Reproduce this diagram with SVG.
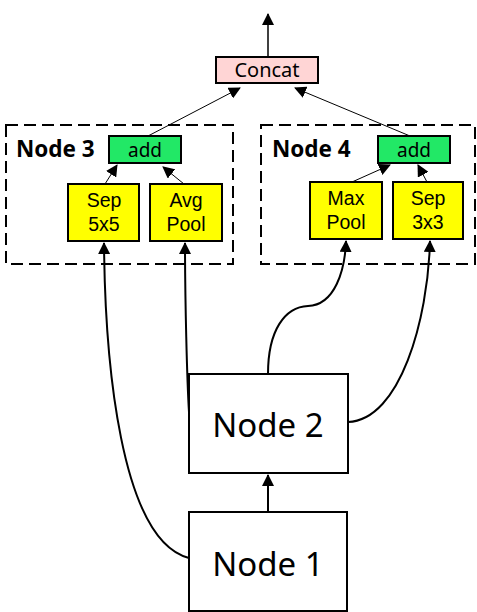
<svg xmlns="http://www.w3.org/2000/svg" width="477" height="612" viewBox="0 0 477 612">
<style>
.box{stroke:#000;stroke-width:2}
.dash{fill:none;stroke:#000;stroke-width:2;stroke-dasharray:12,6}
.op{fill:#ffff00}
.add{fill:#22e866}
.lbl{font-family:"Liberation Sans",Arial,sans-serif;font-size:19.5px;text-anchor:middle}
.k{font-family:"Noto Sans","Noto Sans CJK KR",sans-serif;text-anchor:middle}
.thin{fill:none;stroke:#000;stroke-width:1}
.thick{fill:none;stroke:#000;stroke-width:2}
</style>
<defs>
<marker id="ah" markerUnits="userSpaceOnUse" markerWidth="12" markerHeight="12" viewBox="0 0 12 12" refX="11" refY="6" orient="auto">
<path d="M0,0 L12,6 L0,12 Z" fill="#000"/>
</marker>
</defs>
<rect width="477" height="612" fill="#fff"/>
<g id="node3-group">
<rect class="dash" x="6" y="125" width="227" height="139"/>
<text x="16" y="157" font-family="Noto Sans,sans-serif" font-weight="bold" font-size="22.5">Node 3</text>
</g>
<g id="node4-group">
<rect class="dash" x="261" y="125" width="214" height="139"/>
<text x="272" y="157" font-family="Noto Sans,sans-serif" font-weight="bold" font-size="22.5">Node 4</text>
</g>
<g id="concat"><rect class="box" x="216" y="57" width="102" height="26" fill="#ffd5d5"/><text class="k" x="267" y="77" font-size="20">Concat</text></g>
<g id="add3"><rect class="box add" x="109" y="136" width="72" height="27"/><text class="k" x="145" y="157" font-size="19">add</text></g>
<g id="add4"><rect class="box add" x="378" y="136" width="72" height="27"/><text class="k" x="414" y="157" font-size="19">add</text></g>
<g id="sep5"><rect class="box op" x="68" y="184" width="71" height="57"/><text class="lbl" x="104" y="207">Sep</text><text class="lbl" x="104" y="231">5x5</text></g>
<g id="avgpool"><rect class="box op" x="150" y="184" width="72" height="57"/><text class="lbl" x="186" y="207">Avg</text><text class="lbl" x="186" y="231">Pool</text></g>
<g id="maxpool"><rect class="box op" x="310" y="182" width="72" height="57"/><text class="lbl" x="346" y="205">Max</text><text class="lbl" x="346" y="229">Pool</text></g>
<g id="sep3"><rect class="box op" x="393" y="182" width="70" height="57"/><text class="lbl" x="428" y="205">Sep</text><text class="lbl" x="428" y="229">3x3</text></g>
<g id="node2"><rect class="box" x="189" y="374" width="159" height="99" fill="#fff"/><text class="k" x="268" y="437" font-size="33">Node 2</text></g>
<g id="node1"><rect class="box" x="189" y="512" width="158" height="99" fill="#fff"/><text class="k" x="268" y="576" font-size="33">Node 1</text></g>
<g id="connectors">
<path class="thin" d="M268,57 L268,14" marker-end="url(#ah)" style="stroke-width:1.5"/>
<path class="thin" d="M148,136 L240,88" marker-end="url(#ah)"/>
<path class="thin" d="M410,136 L295,88" marker-end="url(#ah)"/>
<path class="thin" d="M105,184 L117,165" marker-end="url(#ah)"/>
<path class="thin" d="M184,184 L163,167" marker-end="url(#ah)"/>
<path class="thin" d="M352,182 L390,165" marker-end="url(#ah)"/>
<path class="thin" d="M427,182 L418,165" marker-end="url(#ah)"/>
<path class="thick" d="M189,558 C120,540 105,360 104,243" marker-end="url(#ah)"/>
<path class="thick" d="M189,412 C187,380 185,300 185,243" marker-end="url(#ah)"/>
<path class="thick" d="M268,374 C268,330 285,307 308,306 C335,305 345,270 346,241" marker-end="url(#ah)"/>
<path class="thick" d="M348,422 C400,420 428,320 430,241" marker-end="url(#ah)"/>
<path class="thick" d="M268,512 L268,475" marker-end="url(#ah)"/>
</g>
</svg>
